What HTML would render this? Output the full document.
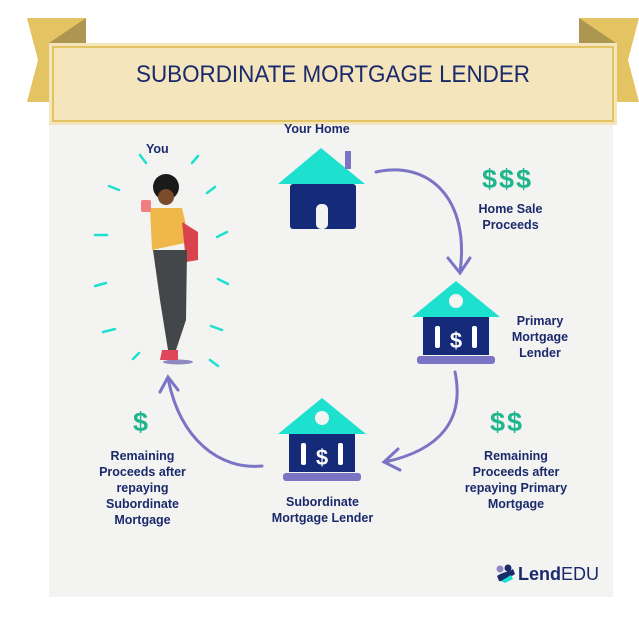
<!DOCTYPE html>
<html><head><meta charset="utf-8"><style>
body{margin:0;width:639px;height:623px;background:#fff;position:relative;overflow:hidden;font-family:"Liberation Sans",sans-serif}
.paper{position:absolute;left:49px;top:120px;width:564px;height:477px;background:#f3f3f2}
.t{position:absolute;color:#1b2a6b;font-weight:bold;font-size:12.5px;text-align:center;line-height:16px}
.g{position:absolute;color:#1fb68e;font-weight:bold;font-size:27px;letter-spacing:2px}
</style></head><body>
<div class="paper"></div>
<svg width="639" height="623" style="position:absolute;left:0;top:0">
<polygon points="27,18 86,18 86,102 27,102 38,60" fill="#e4c462"/>
<polygon points="49,43 86,18 86,43" fill="#ad9650"/>
<polygon points="639,18 579,18 579,102 639,102 628,60" fill="#e4c462"/>
<polygon points="616,43 579,18 579,43" fill="#ad9650"/>
<rect x="49" y="43" width="568" height="82" fill="#f4e5bd"/>
<rect x="53" y="47" width="560" height="74" fill="none" stroke="#e4c462" stroke-width="2"/>
<text x="136" y="82" font-family="Liberation Sans" font-size="24" fill="#1b2a6b" textLength="394" lengthAdjust="spacingAndGlyphs">SUBORDINATE MORTGAGE LENDER</text>
<!-- house -->
<polygon points="321,148 278,184 365,184" fill="#1de0cf"/>
<rect x="345" y="151" width="6" height="18" fill="#7b74c4"/>
<rect x="290" y="184" width="66" height="45" rx="3" fill="#162a7a"/>
<rect x="316" y="204" width="12" height="25" rx="5" fill="#f3f3f2"/>
<!-- bank 2 -->
<g transform="translate(412,281)">
<polygon points="44,0 0,36 88,36" fill="#1de0cf"/><circle cx="44" cy="20" r="7" fill="#f3f3f2"/>
<rect x="11" y="36" width="66" height="38" fill="#162a7a"/>
<rect x="23" y="45" width="5" height="22" rx="2" fill="#fff"/><rect x="60" y="45" width="5" height="22" rx="2" fill="#fff"/>
<text x="44" y="67" text-anchor="middle" font-size="22" font-weight="bold" fill="#fff">$</text>
<rect x="5" y="75" width="78" height="8" rx="3" fill="#7b74c4"/></g>
<g transform="translate(278,398)">
<polygon points="44,0 0,36 88,36" fill="#1de0cf"/><circle cx="44" cy="20" r="7" fill="#f3f3f2"/>
<rect x="11" y="36" width="66" height="38" fill="#162a7a"/>
<rect x="23" y="45" width="5" height="22" rx="2" fill="#fff"/><rect x="60" y="45" width="5" height="22" rx="2" fill="#fff"/>
<text x="44" y="67" text-anchor="middle" font-size="22" font-weight="bold" fill="#fff">$</text>
<rect x="5" y="75" width="78" height="8" rx="3" fill="#7b74c4"/></g>
<!-- arrows -->
<g fill="none" stroke="#7b74c4" stroke-width="3" stroke-linecap="round">
<path d="M376,172 C430,160 470,200 460,272"/><path d="M448,258 L460,273 L470,258"/>
<path d="M455,372 C465,420 440,450 385,462"/><path d="M398,449 L384,462 L400,470"/>
<path d="M262,466 C220,470 180,440 168,378"/><path d="M160,392 L168,377 L178,390"/>
</g>
<!-- rays -->
<g stroke="#1de0cf" stroke-width="2.5" stroke-linecap="round">
<line x1="140" y1="155" x2="146" y2="163"/><line x1="192" y1="163" x2="198" y2="156"/>
<line x1="109" y1="186" x2="119" y2="190"/><line x1="207" y1="193" x2="215" y2="187"/>
<line x1="95" y1="235" x2="107" y2="235"/><line x1="217" y1="237" x2="227" y2="232"/>
<line x1="95" y1="286" x2="106" y2="283"/><line x1="218" y1="279" x2="228" y2="284"/>
<line x1="103" y1="332" x2="115" y2="329"/><line x1="211" y1="326" x2="222" y2="330"/>
<line x1="133" y1="359" x2="139" y2="353"/><line x1="210" y1="360" x2="218" y2="366"/>
</g>
<!-- person -->
<ellipse cx="178" cy="362" rx="15" ry="2.5" fill="#8e89c0"/>
<circle cx="166" cy="187" r="13" fill="#1a1a1a"/>
<circle cx="166" cy="197" r="8" fill="#7a4a2a"/>
<path d="M150,208 L182,208 L190,242 L152,250 Z" fill="#f0b84a"/>
<rect x="141" y="200" width="10" height="12" rx="2" fill="#f08080"/>
<path d="M182,222 L198,232 L198,260 L186,262 Z" fill="#d9434e"/>
<path d="M153,250 L187,250 L186,320 L176,350 L168,350 L160,300 Z" fill="#444749"/>
<path d="M162,350 L178,350 L178,360 L160,360 Z" fill="#e0465a"/>
</svg>
<div class="t" style="left:146px;top:141px">You</div>
<div class="t" style="left:284px;top:121px">Your Home</div>
<div class="g" style="left:482px;top:164px">$$$</div>
<div class="t" style="left:463px;top:201px;width:95px">Home Sale<br>Proceeds</div>
<div class="t" style="left:500px;top:313px;width:80px">Primary<br>Mortgage<br>Lender</div>
<div class="g" style="left:490px;top:407px">$$</div>
<div class="t" style="left:451px;top:448px;width:130px">Remaining<br>Proceeds after<br>repaying Primary<br>Mortgage</div>
<div class="g" style="left:133px;top:407px">$</div>
<div class="t" style="left:80px;top:448px;width:125px">Remaining<br>Proceeds after<br>repaying<br>Subordinate<br>Mortgage</div>
<div class="t" style="left:250px;top:494px;width:145px">Subordinate<br>Mortgage Lender</div>
<div style="position:absolute;left:495px;top:564px;width:22px;height:20px">
<svg width="22" height="20"><circle cx="5" cy="5" r="3.5" fill="#8e89c0"/><circle cx="13" cy="4" r="3.5" fill="#1b2a6b"/><path d="M2,12 C8,8 14,8 18,5 L20,10 C14,14 10,18 4,17Z" fill="#1b2a6b"/><path d="M6,17 L16,11 L18,15 L10,19Z" fill="#1de0cf"/></svg></div>
<div style="position:absolute;left:518px;top:564px;font-size:18px;color:#1b2a6b"><b>Lend</b>EDU</div>
</body></html>
